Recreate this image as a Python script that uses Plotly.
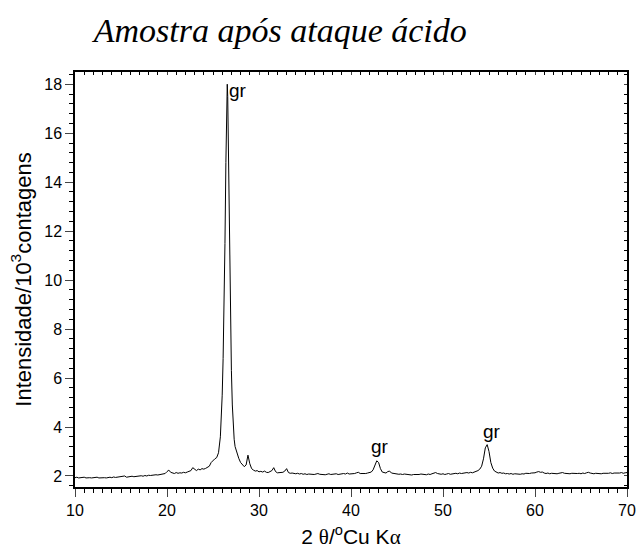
import plotly.graph_objects as go

# Diffraction pattern: 2-theta (degrees) and intensity (10^3 counts)
two_theta = [
    10.0, 10.2, 10.4, 10.6, 10.8, 11.0, 11.2, 11.4, 11.6, 11.8,
    12.0, 12.2, 12.4, 12.6, 12.8, 13.0, 13.2, 13.4, 13.6, 13.8,
    14.0, 14.2, 14.4, 14.6, 14.8, 15.0, 15.2, 15.4, 15.6, 15.8,
    16.0, 16.2, 16.4, 16.6, 16.8, 17.0, 17.2, 17.4, 17.6, 17.8,
    18.0, 18.2, 18.4, 18.6, 18.8, 19.0, 19.2, 19.4, 19.6, 19.8,
    20.0, 20.2, 20.4, 20.6, 20.8, 21.0, 21.2, 21.4, 21.6, 21.8,
    22.0, 22.2, 22.4, 22.6, 22.8, 23.0, 23.2, 23.4, 23.6, 23.8,
    24.0, 24.2, 24.4, 24.6, 24.8, 25.0, 25.2, 25.4, 25.6, 25.8,
    25.9, 26.0, 26.1, 26.2, 26.3, 26.4, 26.5, 26.55, 26.6, 26.7,
    26.8, 26.9, 27.0, 27.1, 27.2, 27.3, 27.4, 27.5, 27.6, 27.8,
    28.0, 28.2, 28.4, 28.6, 28.8, 29.0, 29.2, 29.4, 29.6, 29.8,
    30.0, 30.2, 30.4, 30.6, 30.8, 31.0, 31.2, 31.4, 31.6, 31.8,
    32.0, 32.2, 32.4, 32.6, 32.8, 33.0, 33.2, 33.4, 33.6, 33.8,
    34.0, 34.2, 34.4, 34.6, 34.8, 35.0, 35.2, 35.4, 35.6, 35.8,
    36.0, 36.2, 36.4, 36.6, 36.8, 37.0, 37.2, 37.4, 37.6, 37.8,
    38.0, 38.2, 38.4, 38.6, 38.8, 39.0, 39.2, 39.4, 39.6, 39.8,
    40.0, 40.2, 40.4, 40.6, 40.8, 41.0, 41.2, 41.4, 41.6, 41.8,
    42.0, 42.2, 42.4, 42.6, 42.8, 43.0, 43.2, 43.4, 43.6, 43.8,
    44.0, 44.2, 44.4, 44.6, 44.8, 45.0, 45.2, 45.4, 45.6, 45.8,
    46.0, 46.2, 46.4, 46.6, 46.8, 47.0, 47.2, 47.4, 47.6, 47.8,
    48.0, 48.2, 48.4, 48.6, 48.8, 49.0, 49.2, 49.4, 49.6, 49.8,
    50.0, 50.2, 50.4, 50.6, 50.8, 51.0, 51.2, 51.4, 51.6, 51.8,
    52.0, 52.2, 52.4, 52.6, 52.8, 53.0, 53.2, 53.4, 53.6, 53.8,
    54.0, 54.2, 54.4, 54.6, 54.8, 55.0, 55.2, 55.4, 55.6, 55.8,
    56.0, 56.2, 56.4, 56.6, 56.8, 57.0, 57.2, 57.4, 57.6, 57.8,
    58.0, 58.2, 58.4, 58.6, 58.8, 59.0, 59.2, 59.4, 59.6, 59.8,
    60.0, 60.2, 60.4, 60.6, 60.8, 61.0, 61.2, 61.4, 61.6, 61.8,
    62.0, 62.2, 62.4, 62.6, 62.8, 63.0, 63.2, 63.4, 63.6, 63.8,
    64.0, 64.2, 64.4, 64.6, 64.8, 65.0, 65.2, 65.4, 65.6, 65.8,
    66.0, 66.2, 66.4, 66.6, 66.8, 67.0, 67.2, 67.4, 67.6, 67.8,
    68.0, 68.2, 68.4, 68.6, 68.8, 69.0, 69.2, 69.4, 69.6, 69.8,
    70.0,
]

intensity = [
    1.93, 1.95, 1.92, 1.94, 1.93, 1.95, 1.92, 1.94, 1.93, 1.92,
    1.94, 1.93, 1.95, 1.92, 1.93, 1.91, 1.93, 1.92, 1.94, 1.95,
    1.93, 1.96, 1.94, 1.95, 1.97, 1.95, 1.96, 2.00, 1.95, 1.97,
    1.96, 1.99, 1.97, 1.98, 2.00, 1.98, 2.01, 1.99, 2.02, 2.00,
    2.03, 2.02, 2.04, 2.03, 2.05, 2.04, 2.06, 2.05, 2.08, 2.10,
    2.18, 2.24, 2.15, 2.12, 2.10, 2.14, 2.11, 2.13, 2.12, 2.15,
    2.13, 2.16, 2.18, 2.22, 2.34, 2.26, 2.22, 2.28, 2.25, 2.30,
    2.28, 2.31, 2.35, 2.40, 2.55, 2.65, 2.70, 2.75, 2.95, 3.60,
    4.30, 5.30, 6.80, 8.80, 11.5, 14.8, 17.6, 18.0, 17.5, 14.6,
    11.2, 8.40, 6.30, 4.90, 4.00, 3.50, 3.20, 3.05, 2.90, 2.72,
    2.55, 2.45, 2.38, 2.45, 2.85, 2.50, 2.30, 2.24, 2.20, 2.22,
    2.17, 2.19, 2.16, 2.20, 2.15, 2.14, 2.17, 2.22, 2.34, 2.18,
    2.13, 2.14, 2.12, 2.15, 2.20, 2.30, 2.14, 2.11, 2.12, 2.10,
    2.09, 2.11, 2.08, 2.10, 2.07, 2.09, 2.06, 2.08, 2.07, 2.09,
    2.06, 2.08, 2.10, 2.07, 2.06, 2.08, 2.05, 2.07, 2.09, 2.06,
    2.08, 2.07, 2.09, 2.06, 2.08, 2.07, 2.10, 2.08, 2.12, 2.08,
    2.09, 2.07, 2.10, 2.13, 2.15, 2.10, 2.09, 2.11, 2.10, 2.12,
    2.13, 2.16, 2.25, 2.45, 2.62, 2.55, 2.30, 2.16, 2.13, 2.12,
    2.18, 2.20, 2.12, 2.10, 2.08, 2.09, 2.07, 2.08, 2.06, 2.08,
    2.07, 2.05, 2.07, 2.04, 2.06, 2.05, 2.07, 2.06, 2.08, 2.06,
    2.07, 2.05, 2.08, 2.06, 2.09, 2.12, 2.14, 2.10, 2.08, 2.07,
    2.09, 2.06, 2.08, 2.10, 2.07, 2.09, 2.08, 2.11, 2.09, 2.12,
    2.10, 2.12, 2.11, 2.14, 2.12, 2.15, 2.13, 2.16, 2.18, 2.22,
    2.28, 2.40, 2.70, 3.15, 3.28, 3.00, 2.55, 2.32, 2.20, 2.15,
    2.12, 2.14, 2.11, 2.12, 2.09, 2.10, 2.08, 2.10, 2.07, 2.09,
    2.08, 2.10, 2.07, 2.09, 2.08, 2.11, 2.09, 2.10, 2.12, 2.11,
    2.13, 2.16, 2.18, 2.15, 2.16, 2.12, 2.10, 2.12, 2.09, 2.11,
    2.10, 2.12, 2.09, 2.11, 2.13, 2.14, 2.11, 2.10, 2.12, 2.09,
    2.11, 2.10, 2.12, 2.10, 2.11, 2.09, 2.12, 2.10, 2.13, 2.15,
    2.12, 2.10, 2.09, 2.11, 2.10, 2.12, 2.09, 2.11, 2.10, 2.12,
    2.11, 2.13, 2.10, 2.12, 2.11, 2.13, 2.12, 2.14, 2.11, 2.13,
    2.14,
]

# Phase labels (graphite) placed near their reflections
peak_labels = ["gr", "gr", "gr"]
peak_x = [26.55, 43.1, 55.3]
peak_y = [17.75, 3.2, 3.82]
peak_anchor = ["left", "center", "center"]

x_range = [10, 70]
y_range = [1.55, 18.5]

fig = go.Figure()
fig.add_trace(go.Scatter(
    x=two_theta, y=intensity, mode="lines",
    line=dict(color="black", width=1), showlegend=False, hoverinfo="skip",
))

for txt, px, py, anc in zip(peak_labels, peak_x, peak_y, peak_anchor):
    fig.add_annotation(x=px, y=py, text=txt, showarrow=False, xanchor=anc,
                       yanchor="middle",
                       font=dict(family="Liberation Sans, Arial, sans-serif", size=19, color="black"))

axis_font = dict(family="Liberation Sans, Arial, sans-serif", size=16, color="black")

fig.update_layout(
    width=637, height=549,
    margin=dict(l=75, r=10, t=72, b=62),
    paper_bgcolor="white", plot_bgcolor="white",
    font=dict(family="Liberation Sans, Arial, sans-serif", color="black"),
    title=dict(
        text="Amostra após ataque ácido",
        font=dict(family="Liberation Serif, Times New Roman, serif", size=34, color="black", style="italic"),
        x=0.44, xanchor="center", y=0.945, yanchor="middle",
    ),
    xaxis=dict(
        range=x_range, dtick=10, tick0=10, ticks="outside", ticklen=8, tickwidth=1.2,
        showline=True, linecolor="black", linewidth=1.5, showgrid=False, zeroline=False,
        tickfont=axis_font, automargin=False,
        minor=dict(dtick=1, ticks="outside", ticklen=4, tickcolor="black", showgrid=False),
        title=dict(
            text="2 <span style=\"font-family:Liberation Serif\">θ</span>/<sup>o</sup>Cu K<span style=\"font-family:Liberation Serif\">α</span>",
            font=dict(family="Liberation Sans, Arial, sans-serif", size=21, color="black"),
            standoff=11,
        ),
    ),
    yaxis=dict(
        range=y_range, dtick=2, tick0=2, ticks="outside", ticklen=8, tickwidth=1.2,
        showline=True, linecolor="black", linewidth=1.5, showgrid=False, zeroline=False,
        tickfont=axis_font, automargin=False,
        minor=dict(dtick=0.4, tick0=2, ticks="outside", ticklen=4, tickcolor="black", showgrid=False),
        title=dict(
            text="Intensidade/10<sup>3</sup>contagens",
            font=dict(family="Liberation Sans, Arial, sans-serif", size=22, color="black"),
            standoff=7,
        ),
    ),
    xaxis2=dict(
        range=x_range, overlaying="x", side="top", dtick=10, tick0=10,
        ticks="inside", ticklen=3, showticklabels=False, showline=True,
        linecolor="black", linewidth=1.5, showgrid=False, zeroline=False, automargin=False,
        minor=dict(dtick=1, ticks="inside", ticklen=3, tickcolor="black", showgrid=False),
    ),
    yaxis2=dict(
        range=y_range, overlaying="y", side="right", dtick=2, tick0=2,
        ticks="inside", ticklen=3, showticklabels=False, showline=True,
        linecolor="black", linewidth=1.5, showgrid=False, zeroline=False, automargin=False,
        minor=dict(dtick=0.4, tick0=2, ticks="inside", ticklen=3, tickcolor="black", showgrid=False),
    ),
)

# Invisible trace so the mirrored top/right axes are drawn
fig.add_trace(go.Scatter(x=[x_range[0]], y=[y_range[0]], xaxis="x2", yaxis="y2",
                         mode="markers", marker=dict(opacity=0), showlegend=False,
                         hoverinfo="skip"))

fig.write_html("out.html")
